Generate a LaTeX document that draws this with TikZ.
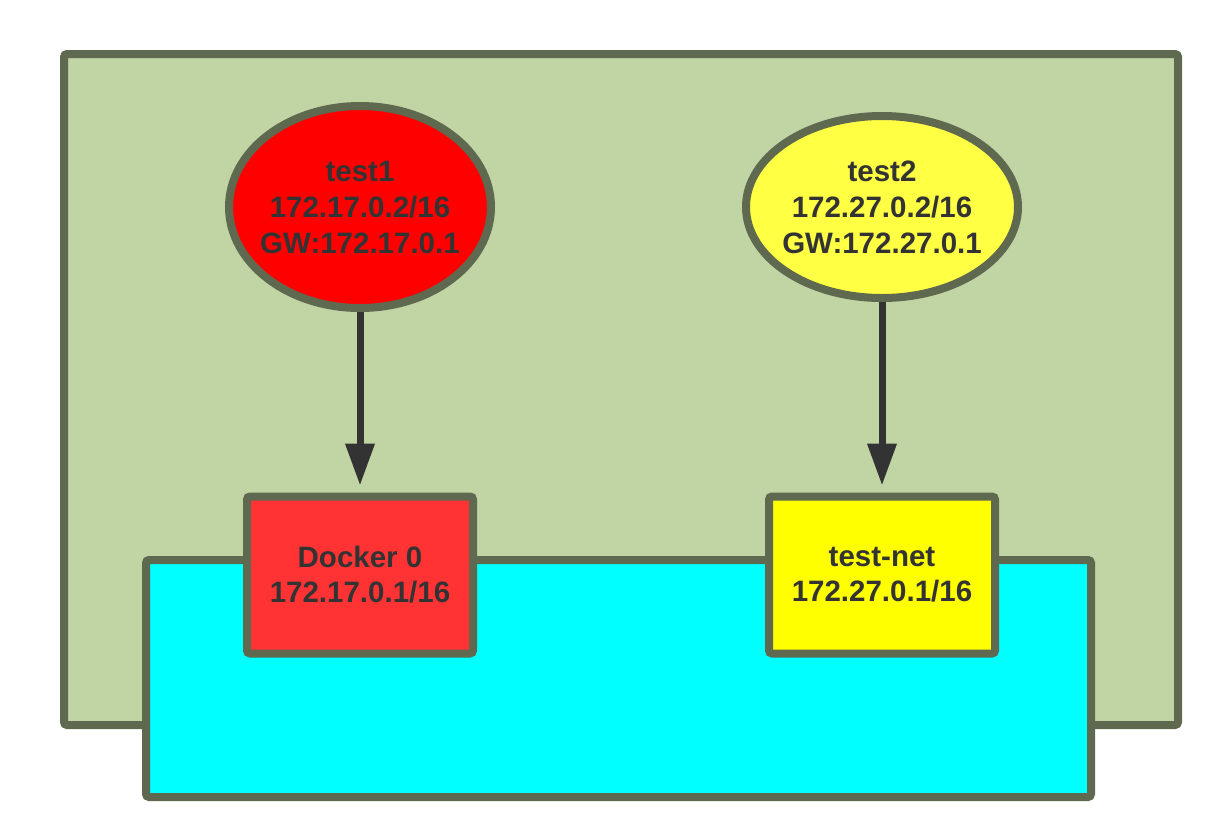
\documentclass[tikz,border=0pt]{standalone}
\usepackage{fontspec}
\setmainfont{Liberation Sans}
\usetikzlibrary{shapes.geometric,arrows.meta}
\definecolor{hostgreen}{HTML}{C1D4A4}
\definecolor{edgegray}{HTML}{5F6950}
\definecolor{textgray}{HTML}{333333}
\definecolor{lancyan}{HTML}{00FFFF}
\definecolor{redfill}{HTML}{FF0000}
\definecolor{redbox}{HTML}{FF3333}
\definecolor{yellowlight}{HTML}{FFFF44}
\definecolor{yellowbox}{HTML}{FFFF00}
\tikzset{
  frame/.style={draw=edgegray,line width=8pt,rounded corners=3pt,inner sep=0pt},
  container/.style={draw=edgegray,line width=8pt,ellipse,inner xsep=-15pt,inner ysep=0pt,text=textgray,align=center,
    font=\fontsize{29.5}{36}\selectfont\bfseries},
  bridge/.style={frame,minimum width=226pt,minimum height=157pt,text=textgray,align=center,
    font=\fontsize{29.5}{35}\selectfont\bfseries},
  link/.style={draw=textgray,line width=7pt,-{Triangle[width=28pt,length=42pt]},shorten >=7pt}
}
\begin{document}
\begin{tikzpicture}[x=1pt,y=-1pt]
\useasboundingbox (0,0) rectangle (1221,823);
\node[frame,fill=hostgreen,minimum width=1114pt,minimum height=671pt] (host) at (621,389.5) {};
\node[frame,fill=lancyan,minimum width=945pt,minimum height=237pt] (lan) at (618.5,678.5) {};

\node[container,fill=redfill,minimum width=262pt,minimum height=202pt] (test1) at (360,207) {test1\\172.17.0.2/16\\GW:172.17.0.1};
\node[container,fill=yellowlight,minimum width=272pt,minimum height=182pt] (test2) at (882,207) {test2\\172.27.0.2/16\\GW:172.27.0.1};
\node[bridge,fill=redbox] (docker0) at (360,575) {Docker 0\\172.17.0.1/16};
\node[bridge,fill=yellowbox] (testnet) at (882,575) {test-net\\172.27.0.1/16};

\draw[link] (test1) -- (docker0);
\draw[link] (test2) -- (testnet);
\end{tikzpicture}
\end{document}
